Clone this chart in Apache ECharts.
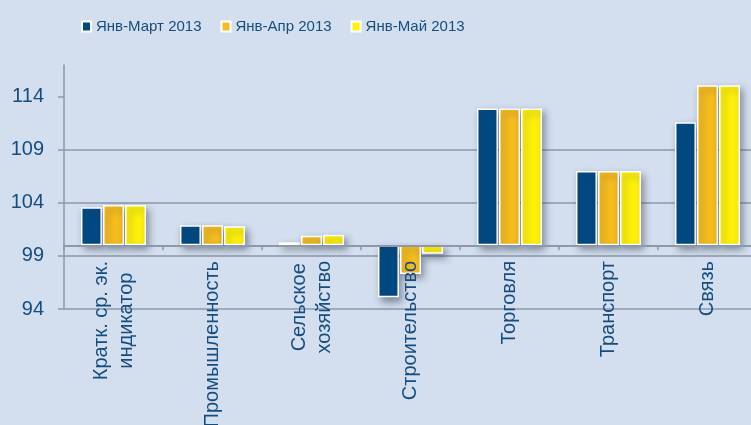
<!DOCTYPE html>
<html>
<head>
<meta charset="utf-8">
<script src="https://cdn.jsdelivr.net/npm/echarts@6/dist/echarts.min.js"></script>
<style>
  html, body { margin: 0; padding: 0; background: #d3dfee; }
  #container { width: 751px; height: 425px; }
</style>
</head>
<body>
<div id="container"></div>
<script>
// индексы, % к соотв. периоду прошлого года (база 100)
var categories = ['Кратк. ср. эк.\nиндикатор', 'Промышленность', 'Сельское\nхозяйство', 'Строительство', 'Торговля', 'Транспорт', 'Связь'];
var seriesNames = ['Янв-Март 2013', 'Янв-Апр 2013', 'Янв-Май 2013'];
var janMar = [103.6, 101.9, 100.3, 95.1, 112.9, 107.0, 111.6];
var janApr = [103.8, 101.9, 100.9, 97.3, 112.9, 107.0, 115.1];
var janMay = [103.8, 101.8, 101.0, 99.2, 112.9, 107.0, 115.1];
var yTicks = [94, 99, 104, 109, 114];
var base = 100;

var colors = ['#004a84', '#f7bd1e', '#fff10a'];
var textColor = '#174c7f';
var lineColor = '#8d98ab';
var font = '"Liberation Sans", Arial, sans-serif';

var dom = document.getElementById('container');
var myChart = echarts.init(dom);

function fromBase(arr) {
  return arr.map(function (v) { return +(v - base).toFixed(2); });
}

function makeSeries(name, values, color) {
  return {
    name: name,
    type: 'bar',
    data: fromBase(values),
    barWidth: 21,
    barGap: '5%',
    itemStyle: {
      color: color,
      borderColor: '#ffffff',
      borderWidth: 1.5,
      shadowColor: 'rgba(40,50,70,0.5)',
      shadowBlur: 7,
      shadowOffsetX: 3,
      shadowOffsetY: 4
    }
  };
}

var option = {
  backgroundColor: '#d3dfee',
  animation: false,
  color: colors,
  legend: {
    data: seriesNames,
    top: 14,
    left: 76,
    itemWidth: 9,
    itemHeight: 10,
    itemGap: 19,
    icon: 'rect',
    textStyle: {
      color: textColor,
      fontSize: 15,
      fontFamily: font
    }
  },
  grid: {
    left: 64,
    right: -6,
    top: 65,
    bottom: 116,
    containLabel: false,
    outerBoundsMode: 'none'
  },
  xAxis: {
    type: 'category',
    data: categories,
    z: 3,
    axisLine: { onZero: true, lineStyle: { color: lineColor, width: 2 } },
    axisTick: { show: true, length: 5, lineStyle: { color: lineColor, width: 1.5 } },
    axisLabel: {
      rotate: 90,
      margin: -48,
      interval: 0,
      hideOverlap: false,
      color: textColor,
      fontSize: 20,
      lineHeight: 25,
      fontFamily: font,
      formatter: function (v) {
        return v.split('\n').map(function (s) { return '{c|' + s + '}'; }).join('\n');
      },
      rich: {
        c: { align: 'center', color: textColor, fontSize: 20, lineHeight: 25, fontFamily: font }
      }
    }
  },
  yAxis: {
    type: 'value',
    min: yTicks[0] - base,
    max: 117 - base,
    interval: yTicks[1] - yTicks[0],
    axisLine: { show: true, lineStyle: { color: lineColor, width: 1.5 } },
    axisTick: {
      show: true,
      length: 6,
      customValues: yTicks.map(function (t) { return t - base; }),
      lineStyle: { color: lineColor, width: 1.5 }
    },
    axisLabel: {
      color: textColor,
      fontSize: 20,
      margin: 20,
      fontFamily: font,
      showMaxLabel: false,
      formatter: function (v) { return String(Math.round(v + base)); }
    },
    splitLine: { show: true, showMaxLine: false, lineStyle: { color: lineColor, width: 1.5 } }
  },
  series: [
    makeSeries(seriesNames[0], janMar, colors[0]),
    makeSeries(seriesNames[1], janApr, colors[1]),
    makeSeries(seriesNames[2], janMay, colors[2])
  ]
};

if (option && typeof option === 'object') {
  myChart.setOption(option);
}
</script>
</body>
</html>
